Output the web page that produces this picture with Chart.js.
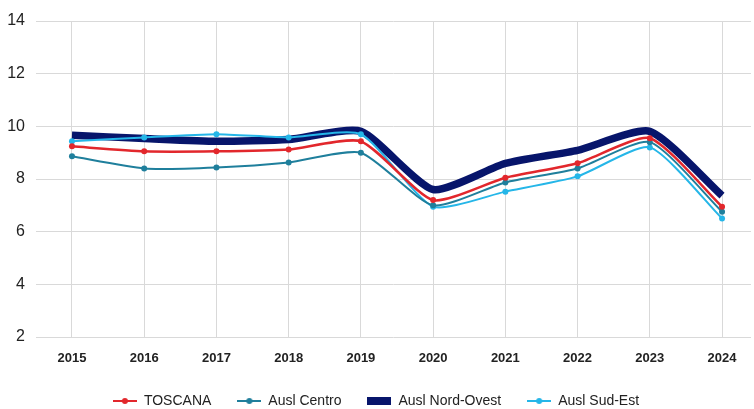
<!DOCTYPE html>
<html><head><meta charset="utf-8">
<script src="https://cdn.jsdelivr.net/npm/chart.js@4/dist/chart.umd.min.js"></script>
<style>html,body{margin:0;padding:0;background:#fff}#wrap{width:754px;height:409px}</style>
</head><body><div id="wrap"><canvas id="c"></canvas></div>
<script>
const years = [2015, 2016, 2017, 2018, 2019, 2020, 2021, 2022, 2023, 2024];
const yTicks = [2, 4, 6, 8, 10, 12, 14];
const toscana   = [9.24, 9.05, 9.05, 9.12, 9.43, 7.20, 8.05, 8.60, 9.55, 6.95];
const auslCentro = [8.86, 8.40, 8.44, 8.63, 9.00, 7.00, 7.87, 8.40, 9.40, 6.76];
const auslNordOvest = [9.66, 9.54, 9.43, 9.50, 9.81, 7.60, 8.59, 9.09, 9.81, 7.37];
const auslSudEst = [9.43, 9.58, 9.70, 9.58, 9.70, 6.95, 7.52, 8.10, 9.20, 6.50];
const seriesNames = ['TOSCANA', 'Ausl Centro', 'Ausl Nord-Ovest', 'Ausl Sud-Est'];

const FONT = "'Liberation Sans Narrow', 'Arial Narrow', 'Liberation Sans', Arial, sans-serif";
const colors = ['#e2272c', '#1f7f9c', '#07156b', '#25b6e8'];
const widths = [2.5, 2, 7.5, 2];

function legendImg(color, box) {
  const cv = document.createElement('canvas');
  cv.width = 24; cv.height = 10;
  const g = cv.getContext('2d');
  if (box) {
    g.fillStyle = color; g.fillRect(0, 1, 24, 8);
  } else {
    g.strokeStyle = color; g.lineWidth = 2;
    g.beginPath(); g.moveTo(0, 5); g.lineTo(24, 5); g.stroke();
    g.fillStyle = color; g.beginPath(); g.arc(12, 5, 3, 0, Math.PI * 2); g.fill();
  }
  return cv;
}
const legendImgs = colors.map((c, i) => legendImg(c, i === 2));

const pts = arr => arr.map((v, i) => ({x: years[i], y: v}));
const allData = [toscana, auslCentro, auslNordOvest, auslSudEst];

const legendHeightPlugin = {
  id: 'legendHeight',
  beforeLayout(chart) {
    const lg = chart.legend;
    if (lg && !lg._patched) {
      const orig = lg.fit.bind(lg);
      lg.fit = function () { orig(); this.height = 41; };
      lg._patched = true;
    }
  }
};

new Chart(document.getElementById('c'), {
  type: 'line',
  plugins: [legendHeightPlugin],
  data: {
    datasets: allData.map((d, i) => ({
      label: seriesNames[i],
      data: pts(d),
      borderColor: colors[i],
      backgroundColor: colors[i],
      borderWidth: widths[i],
      pointRadius: i === 2 ? 0 : 3,
      pointHoverRadius: 3,
      pointBorderWidth: 0,
      tension: 0.2,
      order: i === 2 ? 1 : 0,
      fill: false
    }))
  },
  options: {
    responsive: true,
    maintainAspectRatio: false,
    animation: false,
    layout: {padding: {top: 21, right: 2, left: 0, bottom: 0}},
    plugins: {
      tooltip: {enabled: false},
      legend: {
        position: 'bottom',
        labels: {
          usePointStyle: true,
          pointStyleWidth: 24,
          padding: 26,
          color: '#222',
          font: {family: FONT, size: 14},
          generateLabels: chart => chart.data.datasets.map((ds, i) => ({
            text: ds.label,
            pointStyle: legendImgs[i],
            fillStyle: colors[i],
            strokeStyle: colors[i],
            lineWidth: 0,
            hidden: false,
            datasetIndex: i,
            fontColor: '#222'
          }))
        }
      }
    },
    scales: {
      x: {
        type: 'linear',
        min: 2014.502,
        max: 2024.401,
        afterBuildTicks: s => { s.ticks = years.map(v => ({value: v})); },
        afterFit: s => { s.height = 31; },
        grid: {color: '#d9d9d9', drawTicks: false, lineWidth: 1},
        border: {display: false},
        ticks: {
          padding: 14,
          color: '#222',
          font: {family: FONT, size: 13, weight: 'bold'},
          callback: v => String(v),
          maxRotation: 0,
          autoSkip: false
        }
      },
      y: {
        min: 2,
        max: 14,
        afterBuildTicks: s => { s.ticks = yTicks.map(v => ({value: v})); },
        afterFit: s => { s.width = 36; },
        grid: {color: '#d9d9d9', drawTicks: false, lineWidth: 1},
        border: {display: false},
        ticks: {
          padding: 11,
          color: '#222',
          font: {family: FONT, size: 16}
        }
      }
    }
  }
});
</script>
</body></html>
